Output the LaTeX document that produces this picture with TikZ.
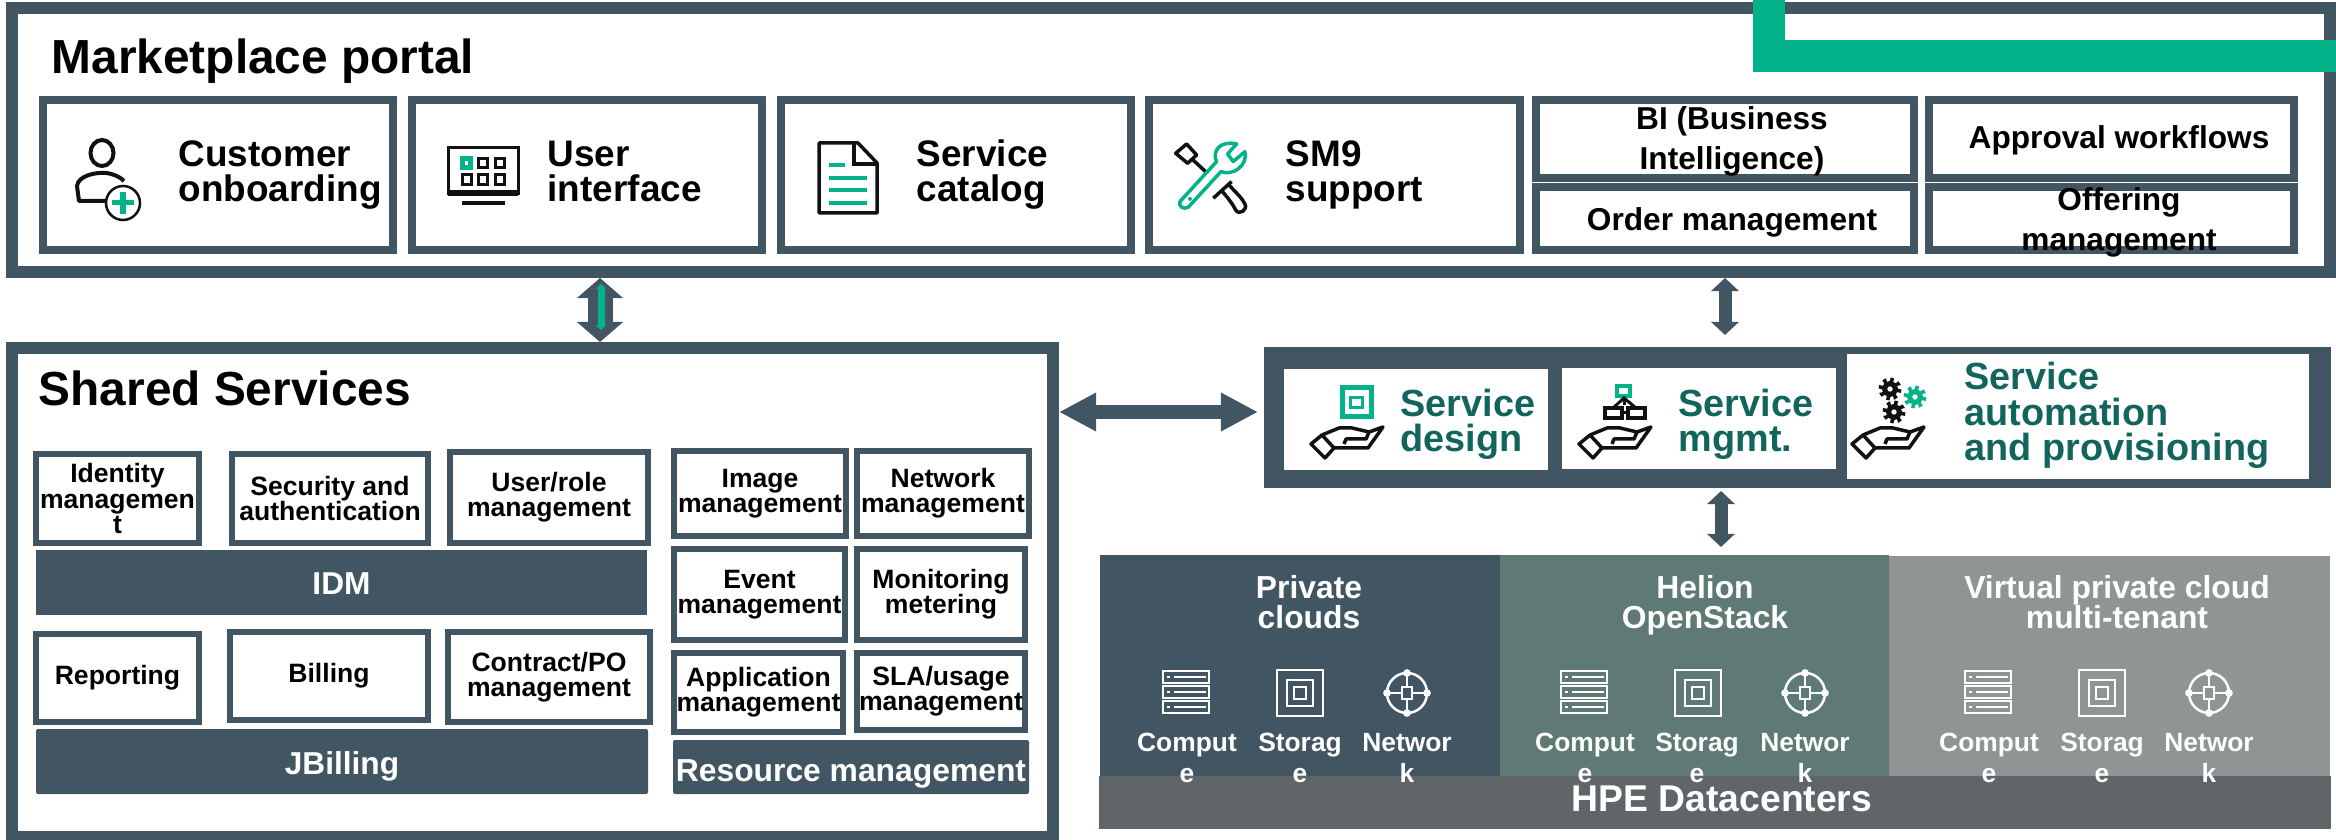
\documentclass[tikz,border=0pt]{standalone}
\usepackage{fontspec}
\setmainfont{Liberation Sans}
\usetikzlibrary{arrows.meta}
\definecolor{slate}{HTML}{425563}
\definecolor{hpegreen}{HTML}{04B289}
\definecolor{tealtext}{HTML}{12655C}
\definecolor{helion}{HTML}{5F7A74}
\definecolor{vpcgrey}{HTML}{8F9494}
\definecolor{bargrey}{HTML}{606568}
\definecolor{iconblack}{HTML}{111111}
\tikzset{
  boxsize/.style 2 args={minimum width=#1*0.01cm,minimum height=#2*0.01cm,anchor=north west,inner sep=0pt},
  frame/.style={draw=slate,line width=0.12cm,fill=white},
  midbox/.style={draw=slate,line width=0.08cm,fill=white},
  midlabel/.style={anchor=base,inner sep=0pt,align=center,font=\fontsize{9}{11.4}\selectfont\bfseries},
  smallbox/.style={draw=slate,line width=0.06cm,fill=white,align=center,font=\fontsize{7.55}{7.2}\selectfont\bfseries},
  bar/.style={fill=slate,text=white,font=\fontsize{9}{10}\selectfont\bfseries,outer sep=0pt},
  whitebox/.style={fill=white,outer sep=0pt},
  panel/.style={outer sep=0pt},
  title/.style={anchor=base west,inner sep=0pt,font=\fontsize{13.6}{15}\selectfont\bfseries},
  iconlabel/.style={anchor=base west,inner sep=0pt,align=left,font=\fontsize{10.5}{10}\selectfont\bfseries},
  servlabel/.style={anchor=base west,inner sep=0pt,align=left,text=tealtext,font=\fontsize{10.75}{10.2}\selectfont\bfseries},
  cloudlabel/.style={anchor=base,inner sep=0pt,align=center,text=white,font=\fontsize{9.05}{8.6}\selectfont\bfseries},
  partlabel/.style={anchor=base,inner sep=0pt,align=center,text=white,font=\fontsize{7.5}{8.8}\selectfont\bfseries},
  fatarrow/.style={draw=slate,line width=0.25cm,{Triangle[length=0.2cm,width=0.45cm]}-{Triangle[length=0.2cm,width=0.45cm]}},
  midarrow/.style={draw=slate,line width=0.13cm,{Triangle[length=0.13cm,width=0.27cm]}-{Triangle[length=0.13cm,width=0.27cm]}},
  widearrow/.style={draw=slate,line width=0.13cm,{Triangle[length=0.37cm,width=0.36cm]}-{Triangle[length=0.37cm,width=0.36cm]}},
  thinarrow/.style={draw=hpegreen,line width=0.07cm,{Triangle[length=0.05cm,width=0.1cm]}-{Triangle[length=0.05cm,width=0.1cm]}},
  thinline/.style={line width=0.025cm},
  midline/.style={line width=0.035cm},
  servericon/.pic={
    \draw[thinline] (-23,-21) rectangle (23,-9);
    \draw[thinline] (-23,-6) rectangle (23,6);
    \draw[thinline] (-23,9) rectangle (23,21);
    \draw[thinline] (-12,-15) -- (20,-15);
    \draw[thinline] (-12,0) -- (20,0);
    \draw[thinline] (-12,15) -- (20,15);
    \draw[thinline] (-19,-15) -- (-16,-15);
    \draw[thinline] (-19,0) -- (-16,0);
    \draw[thinline] (-19,15) -- (-16,15);
  },
  storeicon/.pic={
    \draw[thinline] (-23,-23) rectangle (23,23);
    \draw[thinline] (-13,-13) rectangle (13,13);
    \draw[thinline] (-6,-6) rectangle (6,6);
  },
  neticon/.pic={
    \draw[thinline] (0,0) circle (20);
    \draw[thinline] (-5,-6) rectangle (5,6);
    \draw[thinline] (0,-20) -- (0,-6);
    \draw[thinline] (0,20) -- (0,6);
    \draw[thinline] (-20,0) -- (-5,0);
    \draw[thinline] (20,0) -- (5,0);
    \draw[thinline,fill=.] (0,-20) circle (2.5);
    \draw[thinline,fill=.] (0,20) circle (2.5);
    \draw[thinline,fill=.] (-20,0) circle (2.5);
    \draw[thinline,fill=.] (20,0) circle (2.5);
  },
  handicon/.pic={
    \draw[midline,iconblack,line join=round] (0,18) -- (11,9) -- (23,22) -- (14,32) -- cycle;
    \draw[midline,iconblack,line join=round] (11,9) -- (28,2) -- (41,2) -- (58,6) -- (55,13) -- (35,13) -- (33,18);
    \draw[midline,iconblack,line join=round] (58,6) -- (72,1) -- (57,22) -- (23,22);
  },
  gearicon/.pic={
    \draw[line width=0.05cm] (0,0) circle (5.5);
    \draw[line width=0.05cm,dash pattern=on 1pt off 1pt] (0,0) circle (9);
  }
}
\begin{document}
\begin{tikzpicture}[x=0.01cm,y=-0.01cm]
\path[use as bounding box,clip] (0,0) rectangle (2336,840);

\node[frame,boxsize={2318}{264}] (portal) at (6,2) {};
\node[frame,boxsize={1041}{489}] (shared) at (6,342) {};
\node[title] (portaltitle) at (51,74) {Marketplace portal};
\node[title] (sharedtitle) at (38,406) {Shared Services};

\fill[hpegreen] (1753,0) rectangle (1785,72);
\fill[hpegreen] (1753,40) rectangle (2336,72);

\node[midbox,boxsize={350}{150}] (custbox) at (39,96) {};
\node[midbox,boxsize={350}{150}] (uibox) at (408,96) {};
\node[midbox,boxsize={350}{150}] (catbox) at (777,96) {};
\node[midbox,boxsize={371}{150}] (smbox) at (1145,96) {};
\node[midbox,boxsize={378}{78}] (bibox) at (1532,96) {};
\node[midbox,boxsize={365}{78}] (approvalbox) at (1925,96) {};
\node[midbox,boxsize={378}{63}] (orderbox) at (1532,183) {};
\node[midbox,boxsize={365}{63}] (offerbox) at (1925,183) {};
\node[midlabel] (bilabel) at (1732,170) {BI (Business\\Intelligence)};
\node[midlabel] (approvallabel) at (2119,149) {Approval workflows};
\node[midlabel] (orderlabel) at (1732,231) {Order management};
\node[midlabel] (offerlabel) at (2119,251) {Offering\\management};
\node[iconlabel] (custlabel) at (178,202) {Customer\\onboarding};
\node[iconlabel] (uilabel) at (547,202) {User\\interface};
\node[iconlabel] (catlabel) at (916,202) {Service\\catalog};
\node[iconlabel] (smlabel) at (1285,202) {SM9\\support};

\draw[iconblack,line width=0.04cm] (102,153) ellipse (11.5 and 13);
\draw[iconblack,line width=0.04cm,line join=round] (110,201) -- (79,201) -- (77,186) .. controls (78,176) and (95,172) .. (106,173) .. controls (114,174) and (120,177) .. (124,181);
\draw[iconblack,fill=white,line width=0.025cm] (123,203) circle (17);
\draw[hpegreen,line width=0.05cm] (112,203) -- (134,203);
\draw[hpegreen,line width=0.05cm] (123,192) -- (123,214);

\draw[iconblack,line width=0.03cm] (448,148) rectangle (518,194);
\fill[iconblack] (448,190) rectangle (518,196);
\draw[iconblack,line width=0.035cm] (462,203) -- (505,203);
\draw[hpegreen,line width=0.05cm] (462,159) rectangle (470,168);
\draw[iconblack,line width=0.03cm] (478,159) rectangle (487,168);
\draw[iconblack,line width=0.03cm] (495,159) rectangle (504,168);
\draw[iconblack,line width=0.03cm] (462,175) rectangle (471,185);
\draw[iconblack,line width=0.03cm] (478,175) rectangle (487,185);
\draw[iconblack,line width=0.03cm] (495,175) rectangle (504,185);

\draw[iconblack,line width=0.035cm,line join=round] (819,143) -- (858,143) -- (877,163) -- (877,213) -- (819,213) -- cycle;
\draw[iconblack,line width=0.035cm] (854,143) -- (854,164) -- (877,164);
\draw[hpegreen,line width=0.035cm] (829,165) -- (845,165);
\draw[hpegreen,line width=0.035cm] (829,178) -- (867,178);
\draw[hpegreen,line width=0.035cm] (829,190) -- (867,190);
\draw[hpegreen,line width=0.035cm] (829,203) -- (867,203);

\begin{scope}[shift={(1165,130)},x=0.00333cm,y=-0.00333cm]
\draw[iconblack,line width=0.035cm,line join=round] (32,70) -- (65,42) -- (95,75) -- (68,100) -- cycle;
\draw[iconblack,line width=0.035cm] (82,88) -- (125,128);
\draw[iconblack,line width=0.035cm] (145,205) -- (200,155);
\draw[iconblack,line width=0.035cm] (170,182) .. controls (190,205) and (205,225) .. (212,240) .. controls (222,258) and (250,240) .. (240,222) .. controls (232,205) and (215,190) .. (192,165);
\draw[hpegreen,line width=0.035cm,fill=white,line join=round] (45,215) -- (155,95) .. controls (140,65) and (165,30) .. (215,42) -- (188,72) -- (205,95) -- (240,65) .. controls (250,105) and (205,140) .. (168,125) -- (70,232) .. controls (55,240) and (40,230) .. (45,215) -- cycle;
\fill[hpegreen] (75,207) circle (6);
\end{scope}

\node[smallbox,boxsize={163}{89}] (identbox) at (33,451) {Identity\\managemen\\t};
\node[smallbox,boxsize={196}{89}] (securitybox) at (229,451) {Security and\\authentication};
\node[smallbox,boxsize={198}{91}] (userbox) at (447,449) {User/role\\management};
\node[bar,boxsize={611}{65},text height=7pt] (idmbar) at (36,550) {IDM};
\node[smallbox,boxsize={163}{88}] (reportbox) at (33,631) {Reporting};
\node[smallbox,boxsize={198}{88}] (billbox) at (227,629) {Billing};
\node[smallbox,boxsize={202}{90}] (contractbox) at (445,629) {Contract/PO\\management};
\node[bar,boxsize={612}{65},rounded corners=0.02cm,text depth=0pt,text height=7.5pt] (jbillbar) at (36,729) {JBilling};
\node[smallbox,boxsize={172}{85}] (imagebox) at (671,448) {Image\\management};
\node[smallbox,boxsize={172}{85}] (netbox) at (854,448) {Network\\management};
\node[smallbox,boxsize={171}{91}] (eventbox) at (671,546) {Event\\management};
\node[smallbox,boxsize={168}{91}] (monbox) at (854,546) {Monitoring\\metering};
\node[smallbox,boxsize={169}{79}] (appbox) at (671,650) {Application\\management};
\node[smallbox,boxsize={168}{77}] (slabox) at (854,650) {SLA/usage\\management};
\node[bar,boxsize={356}{54},rounded corners=0.02cm,text depth=0pt,text height=8.2pt,font=\fontsize{9.05}{10}\selectfont\bfseries] (resbar) at (673,740) {Resource management};

\node[fill=slate,panel,boxsize={1067}{141}] (service) at (1264,347) {};
\node[whitebox,boxsize={264}{101}] (designbox) at (1284,369) {};
\node[whitebox,boxsize={274}{101}] (mgmtbox) at (1562,368) {};
\node[whitebox,boxsize={462}{125}] (autobox) at (1847,354) {};
\node[servlabel] (designlabel) at (1400,452) {Service\\design};
\node[servlabel] (mgmtlabel) at (1678,452) {Service\\mgmt.};
\node[servlabel] (autolabel) at (1964,461) {Service\\automation\\and provisioning};

\pic at (1311,426) {handicon};
\pic at (1579,426) {handicon};
\pic at (1852,426) {handicon};
\draw[hpegreen,line width=0.05cm] (1342,388) rectangle (1371,417);
\draw[hpegreen,line width=0.03cm] (1350,398) rectangle (1362,408);
\draw[hpegreen,line width=0.045cm] (1617,386) rectangle (1630,396);
\draw[iconblack,line width=0.03cm] (1624,398) -- (1624,405);
\draw[iconblack,line width=0.03cm] (1613,408) -- (1624,398) -- (1636,408);
\draw[iconblack,line width=0.035cm] (1605,408) rectangle (1622,418);
\draw[iconblack,line width=0.035cm] (1628,408) rectangle (1645,418);
\draw[iconblack,line width=0.03cm] (1622,413) -- (1628,413);
\pic[iconblack] at (1890,389) {gearicon};
\pic[iconblack] at (1894,412) {gearicon};
\pic[hpegreen] at (1915,397) {gearicon};

\node[fill=slate,panel,boxsize={400}{221}] (privatepanel) at (1100,555) {};
\node[fill=helion,panel,boxsize={389}{221}] (helionpanel) at (1500,555) {};
\node[fill=vpcgrey,panel,boxsize={441}{220}] (vpcpanel) at (1889,556) {};
\node[fill=bargrey,panel,boxsize={1232}{53}] (dcbar) at (1099,776) {};

\node[cloudlabel] (privatelabel) at (1309,629) {Private\\clouds};
\node[cloudlabel] (helionlabel) at (1705,629) {Helion\\OpenStack};
\node[cloudlabel] (vpclabel) at (2117,629) {Virtual private cloud\\multi-tenant};

\pic[white] at (1186,692) {servericon};
\pic[white] at (1300,693) {storeicon};
\pic[white] at (1407,693) {neticon};
\pic[white] at (1584,692) {servericon};
\pic[white] at (1698,693) {storeicon};
\pic[white] at (1805,693) {neticon};
\pic[white] at (1988,692) {servericon};
\pic[white] at (2102,693) {storeicon};
\pic[white] at (2209,693) {neticon};

\node[partlabel] (compa) at (1187,782) {Comput\\e};
\node[partlabel] (stora) at (1300,782) {Storag\\e};
\node[partlabel] (neta) at (1407,782) {Networ\\k};
\node[partlabel] (compb) at (1585,782) {Comput\\e};
\node[partlabel] (storb) at (1697,782) {Storag\\e};
\node[partlabel] (netb) at (1805,782) {Networ\\k};
\node[partlabel] (compc) at (1989,782) {Comput\\e};
\node[partlabel] (storc) at (2102,782) {Storag\\e};
\node[partlabel] (netc) at (2209,782) {Networ\\k};
\node[anchor=base,inner sep=0pt,text=white,font=\fontsize{10.6}{12}\selectfont\bfseries] (dclabel) at (1722,811) {HPE Datacenters};

\coordinate (leftx) at (600,0);
\coordinate (rightx) at (1725,0);
\coordinate (lowerx) at (1721,0);
\coordinate (midy) at (0,412);
\coordinate (innertop) at (601,284);
\coordinate (innerbottom) at (601,330);
\draw[fatarrow] (portal.south -| leftx) -- (shared.north -| leftx);
\draw[thinarrow] (innertop) -- (innerbottom);
\draw[midarrow,shorten >=0.12cm] (portal.south -| rightx) -- (service.north -| rightx);
\draw[widearrow,shorten >=0.06cm] (shared.east |- midy) -- (service.west |- midy);
\draw[midarrow,shorten <=0.03cm,shorten >=0.08cm] (service.south -| lowerx) -- (helionpanel.north -| lowerx);
\end{tikzpicture}
\end{document}
